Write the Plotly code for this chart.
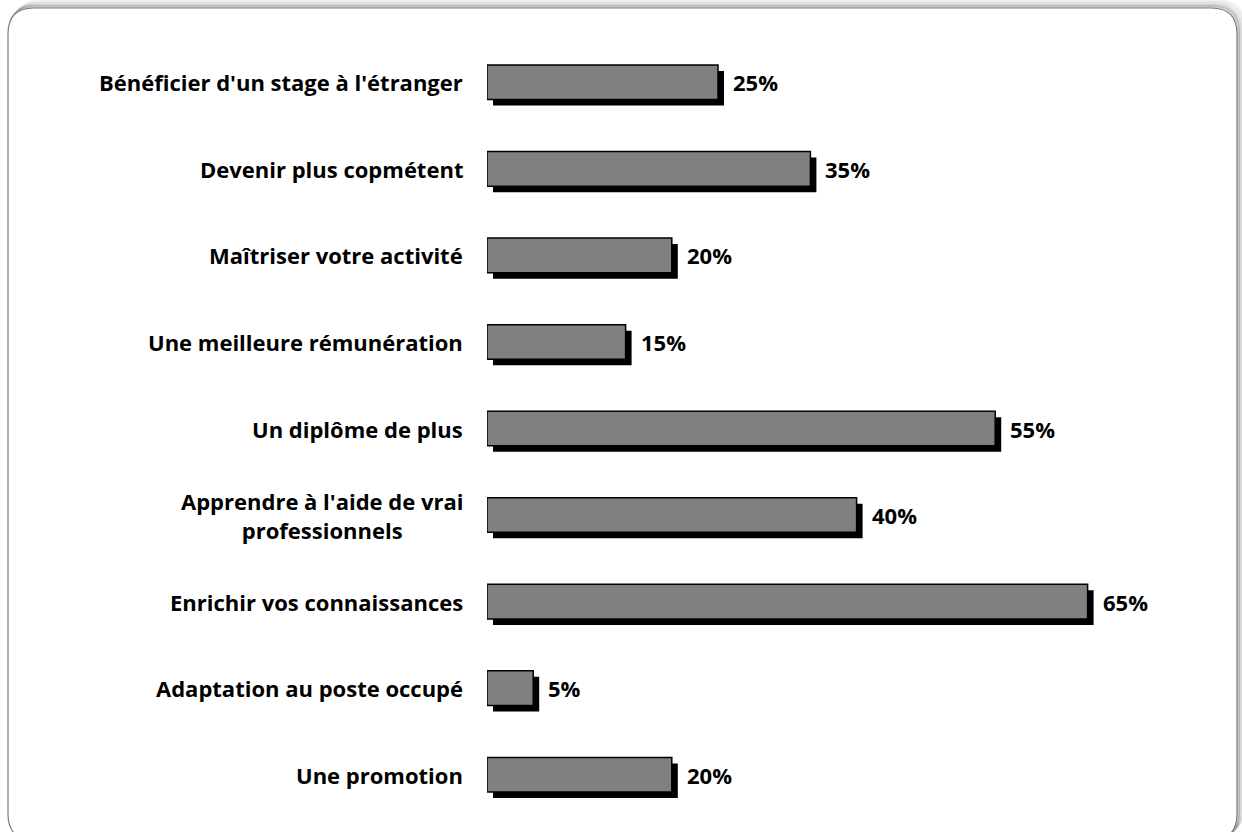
import plotly.graph_objects as go

# Survey answers (top to bottom) and their shares in percent
categories = [
    "Bénéficier d'un stage à l'étranger",
    "Devenir plus copmétent",
    "Maîtriser votre activité",
    "Une meilleure rémunération",
    "Un diplôme de plus",
    "Apprendre à l'aide de vrai<br>professionnels",
    "Enrichir vos connaissances",
    "Adaptation au poste occupé",
    "Une promotion",
]
values = [25, 35, 20, 15, 55, 40, 65, 5, 20]
value_labels = [f"{v}%" for v in values]

# Page geometry
W, H = 1242, 832
ML, MR, MT, MB = 487, 62, 39, 14
X_MAX = 75
plot_w = W - ML - MR
plot_h = H - MT - MB
px_per_x = plot_w / X_MAX
px_per_cat = plot_h / len(categories)

BAR_W = 0.4
SHADOW_PX = 6
shadow_dx = SHADOW_PX / px_per_x
shadow_dy = SHADOW_PX / px_per_cat

FONT = "Open Sans"
FONT_SIZE = 22
ypos = list(range(len(categories)))

fig = go.Figure()

# Drop shadow behind each bar
fig.add_trace(go.Bar(
    y=ypos, x=values, base=[shadow_dx] * len(values),
    orientation="h", width=BAR_W, offset=-BAR_W / 2 + shadow_dy,
    marker=dict(color="black", line=dict(width=0)),
    hoverinfo="skip", showlegend=False,
))

# Gray bars
fig.add_trace(go.Bar(
    y=ypos, x=values, base=[0] * len(values),
    orientation="h", width=BAR_W, offset=-BAR_W / 2,
    marker=dict(color="#808080", line=dict(color="black", width=1.5)),
    showlegend=False,
))

annotations = []
for i, (cat, v, lab) in enumerate(zip(categories, values, value_labels)):
    annotations.append(dict(
        x=0, xref="paper", y=i, yref="y", text=f"<b>{cat}</b>",
        xanchor="right", yanchor="middle", xshift=-22, align="center",
        showarrow=False, font=dict(family=FONT, size=FONT_SIZE, color="black"),
    ))
    annotations.append(dict(
        x=v, xref="x", y=i, yref="y", text=f"<b>{lab}</b>",
        xanchor="left", yanchor="middle", xshift=13,
        showarrow=False, font=dict(family=FONT, size=FONT_SIZE, color="black"),
    ))


def px_to_paper(px, py):
    return (px - ML) / plot_w, 1 - (py - MT) / plot_h


def rounded_rect(x0, y0, x1, y1, r):
    a = px_to_paper
    p = []
    p.append("M {} {}".format(*a(x0 + r, y0)))
    p.append("L {} {}".format(*a(x1 - r, y0)))
    p.append("Q {} {} {} {}".format(*a(x1, y0), *a(x1, y0 + r)))
    p.append("L {} {}".format(*a(x1, y1 - r)))
    p.append("Q {} {} {} {}".format(*a(x1, y1), *a(x1 - r, y1)))
    p.append("L {} {}".format(*a(x0 + r, y1)))
    p.append("Q {} {} {} {}".format(*a(x0, y1), *a(x0, y1 - r)))
    p.append("L {} {}".format(*a(x0, y0 + r)))
    p.append("Q {} {} {} {}".format(*a(x0, y0), *a(x0 + r, y0)))
    p.append("Z")
    return " ".join(p)


shapes = []
# soft frame shadow towards top-right
for k, alpha in [(7, 0.05), (5, 0.08), (3, 0.12), (1.5, 0.18)]:
    shapes.append(dict(
        type="path", xref="paper", yref="paper", layer="below",
        path=rounded_rect(8 + k, 8 - k, 1237 + k, 840 - k, 26),
        line=dict(color=f"rgba(0,0,0,{alpha})", width=3),
        fillcolor="rgba(0,0,0,0)",
    ))
# chart frame
shapes.append(dict(
    type="path", xref="paper", yref="paper", layer="below",
    path=rounded_rect(8, 8, 1237, 840, 26),
    line=dict(color="#7a7a7a", width=1.2), fillcolor="white",
))

fig.update_layout(
    width=W, height=H,
    margin=dict(l=ML, r=MR, t=MT, b=MB),
    paper_bgcolor="white", plot_bgcolor="rgba(0,0,0,0)",
    barmode="overlay",
    xaxis=dict(range=[0, X_MAX], visible=False),
    yaxis=dict(range=[len(categories) - 0.5, -0.5], visible=False),
    annotations=annotations,
    shapes=shapes,
)

fig.write_html("out.html")
